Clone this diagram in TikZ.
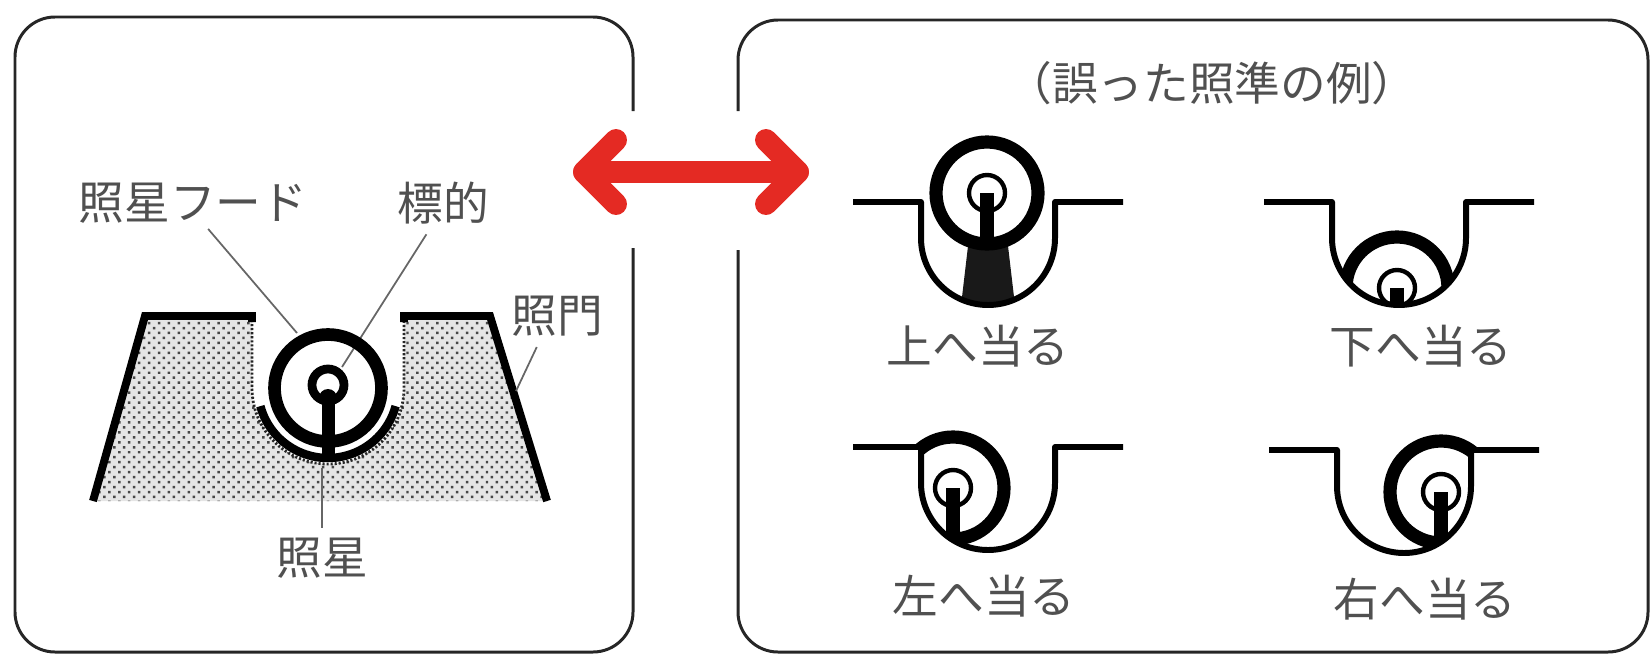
\documentclass[tikz,border=0pt]{standalone}
\usepackage{fontspec}
\newfontfamily\jp{Noto Sans CJK JP}
\usetikzlibrary{patterns.meta}

\definecolor{arrowred}{HTML}{E42A23}
\definecolor{ink}{HTML}{505050}

% fine staggered dots for the rear sight blades
\tikzdeclarepattern{
  name=stipple,
  type=uncolored,
  bottom left={(-.1pt,-.1pt)},
  top right={(4.1pt,4.1pt)},
  tile size={(4pt,4pt)},
  tile transformation={rotate=45},
  code={\fill (2pt,2pt) circle (1pt);}
}

% #1 notch (shoulder line, centre), #2 hood centre relative to it, #3 drawn under the hood
\newcommand{\wrongsight}[3]{%
  \begin{scope}[shift={(#1)}]
    \begin{scope}
      \clip (-220,160) -- (-220,0) -- (-67,0) -- (-67,-36)
        arc[start angle=180,end angle=360,radius=67]
        -- (67,0) -- (220,0) -- (220,160) -- cycle;
      #3
      \draw[hood] (#2) circle[radius=51];
      \draw[target] (#2) circle[radius=18];
      \draw[post] (#2) -- ++(0,-51);
    \end{scope}
    \draw[notch] (-135,0) -- (-67,0) -- (-67,-36)
      arc[start angle=180,end angle=360,radius=67] -- (67,0) -- (135,0);
  \end{scope}}

\begin{document}
\begin{tikzpicture}[x=0.02cm,y=0.02cm,
  lbl/.style={font=\jp\fontsize{26}{30}\selectfont,text=ink,inner sep=0pt,
    text height=20.5pt,text depth=1.8pt},
  panel/.style={draw=black!85,line width=1.7pt,rounded corners=0.8cm},
  redarrow/.style={draw=arrowred,line width=12.5pt,line cap=round,line join=round},
  blade/.style={line width=4.5pt,line join=miter},
  leader/.style={draw=black!60,line width=1pt},
  hood/.style={line width=7.5pt},
  target/.style={line width=2.5pt},
  post/.style={line width=8pt},
  notch/.style={line width=3.4pt,line join=round}]

\useasboundingbox (0,0) rectangle (1652,-656);

% the two panels, open where the arrow passes
\draw[panel] (633,-111) -- (633,-17) -- (15,-17) -- (15,-652) -- (633,-652) -- (633,-248);
\draw[panel] (738,-111) -- (738,-20) -- (1648,-20) -- (1648,-652) -- (738,-652) -- (738,-250);

% double arrow
\coordinate (arrL) at (584,-172);
\coordinate (arrR) at (798,-172);
\draw[redarrow] (arrL) -- (arrR);
\draw[redarrow] ([shift={(32,32)}]arrL) -- (arrL) -- ([shift={(32,-32)}]arrL);
\draw[redarrow] ([shift={(-32,32)}]arrR) -- (arrR) -- ([shift={(-32,-32)}]arrR);

% correct sight picture
\coordinate (fs) at (328,-388);
\coordinate (tg) at (328,-385);
\fill[black!10,postaction={pattern=stipple,pattern color=black!72}]
  (93,-501) -- (145,-316) -- (252,-316) -- (252,-388)
  arc[start angle=180,end angle=360,radius=76] -- (404,-316)
  -- (490,-316) -- (547,-501) -- cycle;
\draw[black!85,line width=1.6pt,dash pattern=on 1.2pt off 1.1pt]
  (252,-316) -- (252,-388) arc[start angle=180,end angle=360,radius=76] -- (404,-316);
\draw[blade] (93,-501) -- (145,-316) -- (252,-316) -- (252,-322);
\draw[blade] (404,-322) -- (404,-316) -- (490,-316) -- (547,-501);

\node[lbl] (hood) at (193,-203) {照星フード};
\node[lbl] (mark) at (443,-204) {標的};
\node[lbl] (rear) at (557,-316) {照門};
\node[lbl] (front) at (322,-558) {照星};
\coordinate (hoodtip) at (297,-333);
\coordinate (marktip) at (342,-367);
\coordinate (reartip) at (516,-391);
\coordinate (fronttip) at (322,-468);
\draw[leader,shorten <=4.5pt] ([xshift=0.2cm]hood.south) -- (hoodtip);
\draw[leader,shorten <=7pt] ([xshift=-0.2cm]mark.south) -- (marktip);
\draw[leader,shorten <=7pt] ([xshift=-0.3cm]rear.south) -- (reartip);
\draw[leader,shorten >=6pt] (fronttip) -- (front.north);

\draw[line width=4.8pt] (fs) ++(195:70) arc[start angle=195,end angle=345,radius=70];
\draw[line width=7.2pt] (fs) circle[radius=53.5];
\draw[line width=5pt] (tg) circle[radius=16];
\fill (321.5,-462) rectangle (334.5,-398);
\fill (328,-398) circle[radius=9];

% wrong sight pictures
\node[lbl] (title) at (1212,-84) {（誤った照準の例）};
\wrongsight{988,-202}{-1,9}{\fill[black!90] (-20,-44) -- (20,-44) -- (28,-112) -- (-28,-112) -- cycle;}
\wrongsight{1399,-202}{-2,-86}{}
\wrongsight{988,-447}{-35,-41}{}
\wrongsight{1404,-450}{37,-42}{}
\node[lbl] (hitup) at (978,-347) {上へ当る};
\node[lbl] (hitdown) at (1421,-347) {下へ当る};
\node[lbl] (hitleft) at (984,-597) {左へ当る};
\node[lbl] (hitright) at (1425,-600) {右へ当る};
\end{tikzpicture}
\end{document}
